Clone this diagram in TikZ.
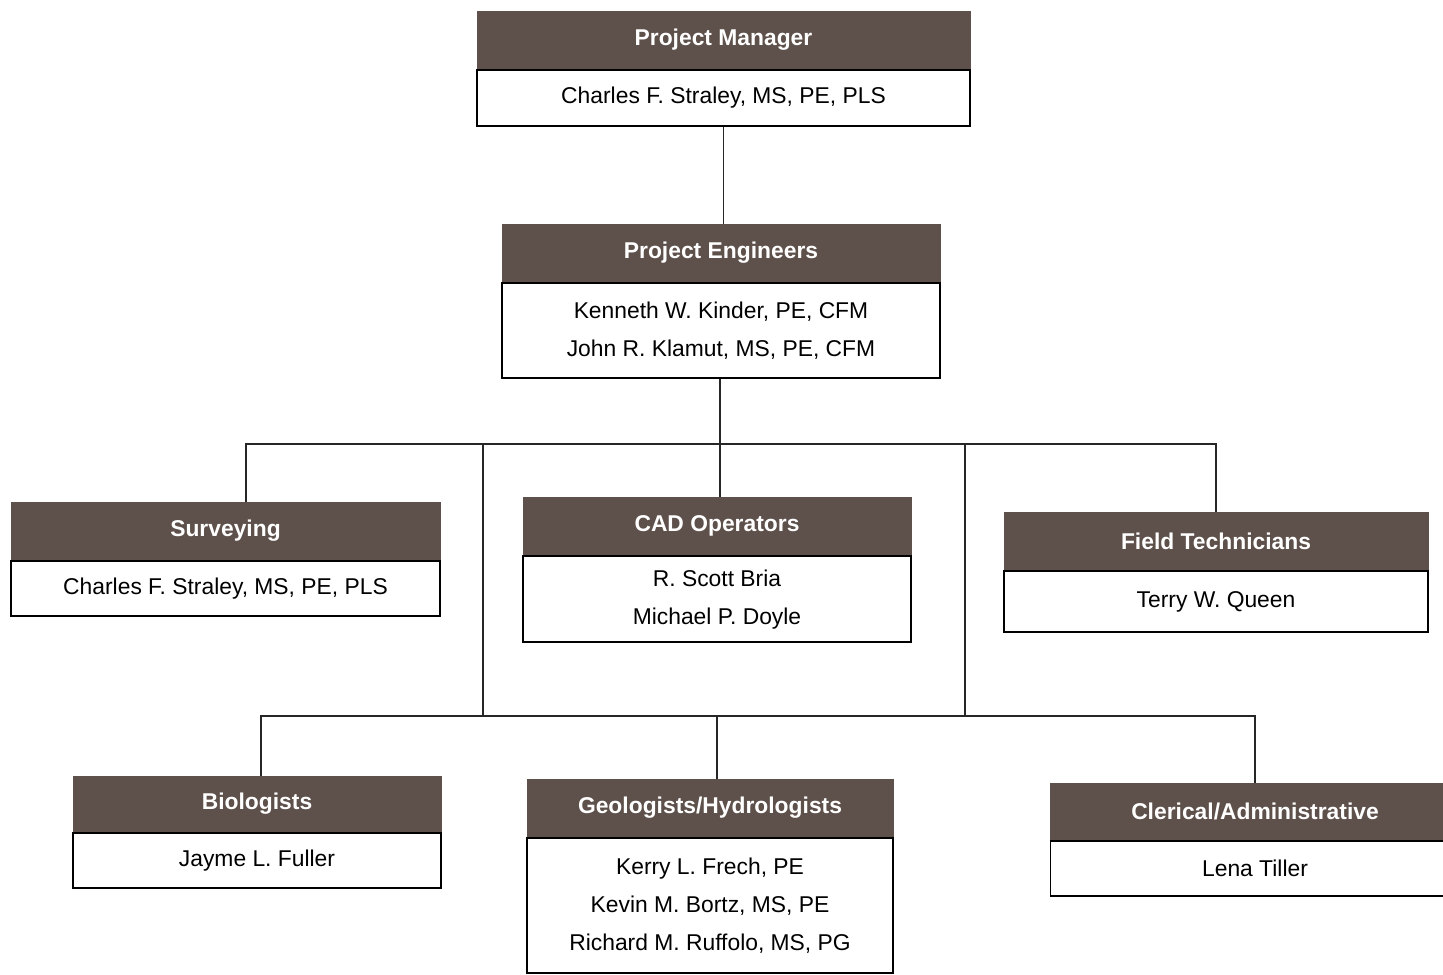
\documentclass[tikz,border=0pt]{standalone}
\usepackage{fontspec}
\setmainfont{Liberation Sans}
\usepackage{tikz}
\usetikzlibrary{positioning}
\definecolor{headbrown}{RGB}{94,80,74}
\tikzset{head/.style={draw=headbrown, fill=headbrown, text=white, font=\fontsize{13}{16}\selectfont\bfseries, minimum height=1.14cm, inner sep=0pt}}
\tikzset{body/.style={draw=black, line width=1pt, fill=white, font=\fontsize{13}{21.5}\selectfont, align=center, inner sep=0pt}}
\tikzset{link/.style={draw=black!85, line width=0.8pt}}

\begin{document}
\begin{tikzpicture}[x=0.02cm, y=-0.02cm]
\useasboundingbox (0,0) rectangle (1443,974);
% top levels
\node[head, minimum width=9.86cm] (pm) at (723.5,40) {Project Manager};
\node[body, minimum width=9.86cm, minimum height=1.12cm, below=0pt of pm] (pmb) {Charles F. Straley, MS, PE, PLS};
\node[head, minimum width=8.76cm, minimum height=1.16cm] (pe) at (721,253) {Project Engineers};
\node[body, minimum width=8.76cm, minimum height=1.9cm, below=0pt of pe] (peb) {Kenneth W. Kinder, PE, CFM\\John R. Klamut, MS, PE, CFM};
% middle row
\node[head, minimum width=8.58cm, minimum height=1.16cm] (sv) at (225.5,531) {Surveying};
\node[body, minimum width=8.58cm, minimum height=1.1cm, below=0pt of sv] (svb) {Charles F. Straley, MS, PE, PLS};
\node[head, minimum width=7.76cm, minimum height=1.16cm] (cad) at (717,526) {CAD Operators};
\node[body, minimum width=7.76cm, minimum height=1.72cm, below=0pt of cad] (cadb) {R. Scott Bria\\Michael P. Doyle};
\node[head, minimum width=8.48cm, minimum height=1.16cm] (ft) at (1216,541) {Field Technicians};
\node[body, minimum width=8.48cm, minimum height=1.22cm, below=0pt of ft] (ftb) {Terry W. Queen};
% bottom row
\node[head, minimum width=7.36cm, minimum height=1.12cm] (bio) at (257,804) {Biologists};
\node[body, minimum width=7.36cm, minimum height=1.1cm, below=0pt of bio] (biob) {Jayme L. Fuller};
\node[head, minimum width=7.32cm, minimum height=1.16cm] (geo) at (710,808) {Geologists/Hydrologists};
\node[body, minimum width=7.32cm, minimum height=2.7cm, below=0pt of geo] (geob) {Kerry L. Frech, PE\\Kevin M. Bortz, MS, PE\\Richard M. Ruffolo, MS, PG};
\node[head, minimum width=8.18cm, minimum height=1.14cm] (cl) at (1255,811.5) {Clerical/Administrative};
\node[body, minimum width=8.18cm, minimum height=1.1cm, below=0pt of cl] (clb) {Lena Tiller};
% connectors
\coordinate (bus1l) at (246,444);
\coordinate (bus1r) at (1216,444);
\coordinate (bus1m) at (720,444);
\coordinate (bus2l) at (261,716);
\coordinate (bus2r) at (1255,716);
\coordinate (bus2m) at (717,716);
\coordinate (riser1) at (483,444);
\coordinate (riser2) at (965,444);
\draw[link] (pmb.south) -- (pmb.south |- pe.north);
\draw[link] (peb.south -| bus1m) -- (bus1m);
\draw[link] (bus1l |- sv.north) -- (bus1l) -- (bus1r) -- (bus1r |- ft.north);
\draw[link] (bus1m) -- (bus1m |- cad.north);
\draw[link] (riser1) -- (riser1 |- bus2l);
\draw[link] (riser2) -- (riser2 |- bus2l);
\draw[link] (bus2l |- bio.north) -- (bus2l) -- (bus2r) -- (bus2r |- cl.north);
\draw[link] (bus2m) -- (bus2m |- geo.north);
\end{tikzpicture}
\end{document}
